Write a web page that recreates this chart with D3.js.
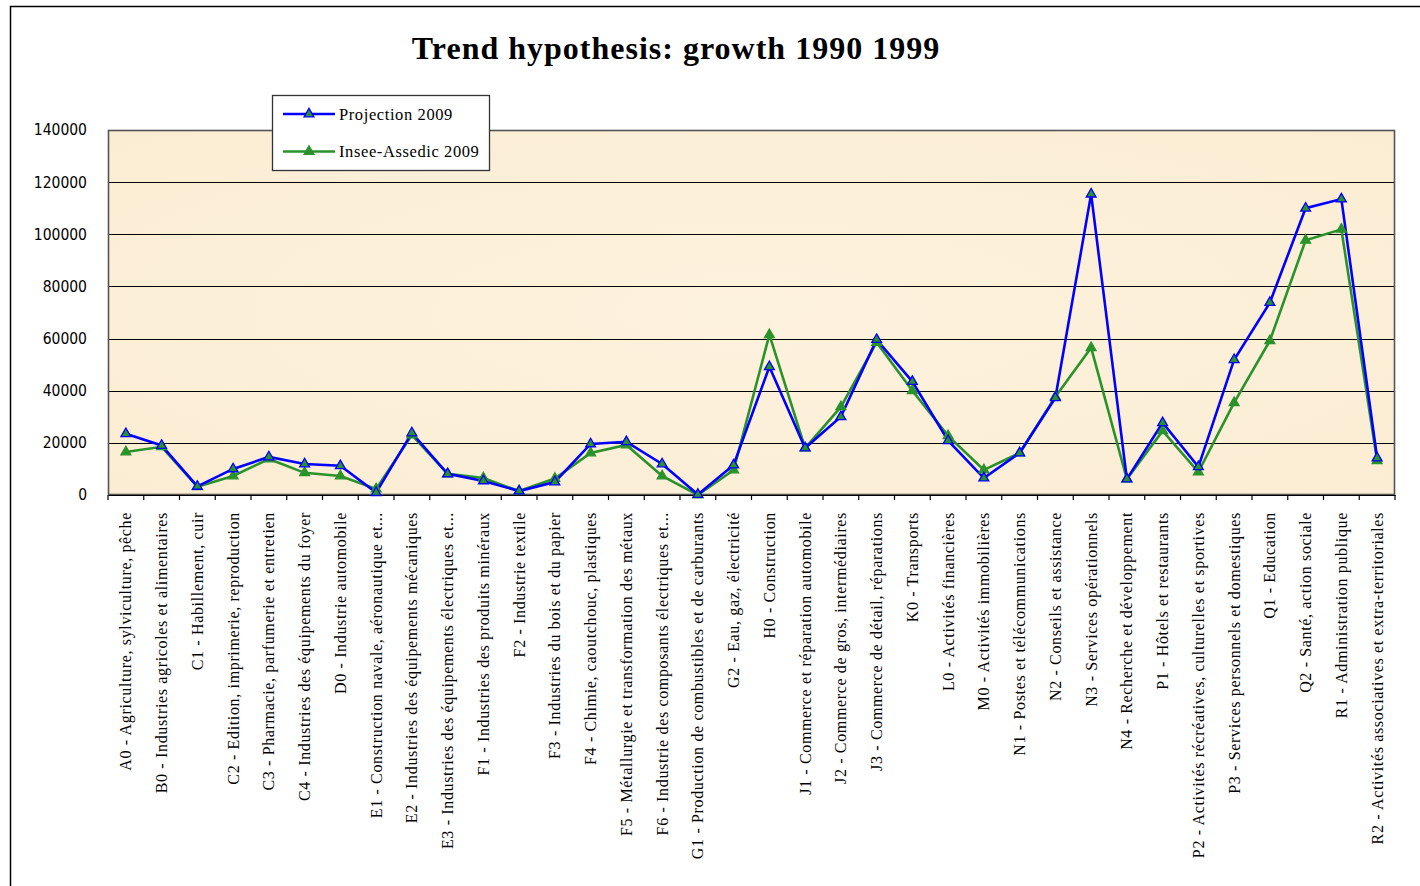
<!DOCTYPE html>
<html><head><meta charset="utf-8">
<script src="https://cdn.jsdelivr.net/npm/d3@7"></script>
<style>body{margin:0;background:#fff;}svg{display:block;}</style>
</head><body>
<svg id="c" width="1420" height="886"></svg>
<script>
const categories = [
"A0 - Agriculture, sylviculture, pêche",
"B0 - Industries agricoles et alimentaires",
"C1 - Habillement, cuir",
"C2 - Edition, imprimerie, reproduction",
"C3 - Pharmacie, parfumerie et entretien",
"C4 - Industries des équipements du foyer",
"D0 - Industrie automobile",
"E1 - Construction navale, aéronautique et...",
"E2 - Industries des équipements mécaniques",
"E3 - Industries des équipements électriques et...",
"F1 - Industries des produits minéraux",
"F2 - Industrie textile",
"F3 - Industries du bois et du papier",
"F4 - Chimie, caoutchouc, plastiques",
"F5 - Métallurgie et transformation des métaux",
"F6 - Industrie des composants électriques et...",
"G1 - Production de combustibles et de carburants",
"G2 - Eau, gaz, électricité",
"H0 - Construction",
"J1 - Commerce et réparation automobile",
"J2 - Commerce de gros, intermédiaires",
"J3 - Commerce de détail, réparations",
"K0 - Transports",
"L0 - Activités financières",
"M0 - Activités immobilières",
"N1 - Postes et télécommunications",
"N2 - Conseils et assistance",
"N3 - Services opérationnels",
"N4 - Recherche et développement",
"P1 - Hôtels et restaurants",
"P2 - Activités récréatives, culturelles et sportives",
"P3 - Services personnels et domestiques",
"Q1 - Education",
"Q2 - Santé, action sociale",
"R1 - Administration publique",
"R2 - Activités associatives et extra-territoriales"
];
const projection2009 = [23500,19000,3300,10000,14600,11900,11200,900,23800,8100,5400,1500,5000,19600,20400,11900,200,11500,49200,18000,30000,59600,43500,20800,6500,16100,37300,115400,6100,27700,10800,51900,73800,110000,113500,14200];
const insee2009 = [16500,18500,3200,7300,13800,8500,7300,2300,23000,8100,6500,1500,6300,16100,19200,7300,0,9600,61500,18000,33800,58500,40000,22700,9600,16100,37700,56500,6100,24600,8800,35400,59200,97700,101900,13100];
const seriesNames = ["Projection 2009","Insee-Assedic 2009"];
const yTicks = [0,20000,40000,60000,80000,100000,120000,140000];
const title = "Trend hypothesis: growth 1990 1999";

const svg = d3.select("#c");
const L=108, R=1395, T=130, B=495;

// outer frame
svg.append("path").attr("d","M10.5,886 V6.5 H1420").attr("fill","none").attr("stroke","#000").attr("stroke-width",1.5);

// title
svg.append("text").attr("x",676).attr("y",59).attr("text-anchor","middle")
  .attr("font-family","Liberation Serif, Times New Roman, serif").attr("font-weight","bold")
  .attr("font-size",32).attr("letter-spacing",1).text(title);

const x = d3.scaleBand().domain(categories).range([L,R]).padding(0);
const y = d3.scaleLinear().domain([0,140000]).range([B,T]);

// plot background
const defs = svg.append("defs");
const grad = defs.append("radialGradient").attr("id","bg").attr("cx","50%").attr("cy","50%").attr("r","70%");
grad.append("stop").attr("offset","0%").attr("stop-color","#fdf2de");
grad.append("stop").attr("offset","100%").attr("stop-color","#fbedd3");
svg.append("rect").attr("x",L).attr("y",T).attr("width",R-L).attr("height",B-T).attr("fill","url(#bg)");

// gridlines
svg.append("g").selectAll("line").data(yTicks.filter(d=>d>0&&d<140000)).join("line")
  .attr("x1",L).attr("x2",R).attr("y1",d=>Math.round(y(d))+0.5).attr("y2",d=>Math.round(y(d))+0.5)
  .attr("stroke","#000").attr("stroke-width",1.2);

// plot border
svg.append("rect").attr("x",L+0.5).attr("y",T+0.5).attr("width",R-L-1).attr("height",B-T-1)
  .attr("fill","none").attr("stroke","#555").attr("stroke-width",1.6);

// y axis
const yAxis = d3.axisLeft(y).tickValues(yTicks).tickSize(0).tickPadding(21).tickFormat(d3.format("d"));
const gy = svg.append("g").attr("transform",`translate(${L},0)`).call(yAxis);
gy.select(".domain").remove();
gy.selectAll("text").attr("font-family","DejaVu Sans Condensed, DejaVu Sans, sans-serif").attr("font-size",15.5).attr("fill","#000");

// x axis
const xAxis = d3.axisBottom(x).tickSize(0).tickFormat(d=>d);
const gx = svg.append("g").attr("transform",`translate(0,${B})`).call(xAxis);
gx.select(".domain").attr("stroke","#000").attr("stroke-width",1.2);
gx.selectAll("text")
  .attr("font-family","Liberation Serif, Times New Roman, serif").attr("font-size",16).attr("fill","#000")
  .attr("letter-spacing",0.65)
  .attr("text-anchor","end").attr("dy","0.35em")
  .attr("transform","translate(0,17) rotate(-90)").attr("x",0).attr("y",0);
// boundary ticks
svg.append("g").selectAll("line").data(d3.range(categories.length+1)).join("line")
  .attr("x1",i=>L+i*x.step()).attr("x2",i=>L+i*x.step())
  .attr("y1",B).attr("y2",B+5).attr("stroke","#000").attr("stroke-width",1.2);

// series
const series = [
  {name:seriesNames[0], values:projection2009, color:"#0000ff"},
  {name:seriesNames[1], values:insee2009, color:"#2a922a"}
];
const line = d3.line().x((d,i)=>x(categories[i])+x.bandwidth()/2).y(d=>y(d));
const tri = d3.symbol().type(d3.symbolTriangle).size(42);
[series[1], series[0]].forEach(s=>{
  svg.append("path").datum(s.values).attr("d",line).attr("fill","none").attr("stroke",s.color).attr("stroke-width",2.6).attr("stroke-linejoin","miter");
});
[series[1], series[0]].forEach(s=>{
  svg.append("g").selectAll("path").data(s.values).join("path")
    .attr("d",tri)
    .attr("transform",(d,i)=>`translate(${x(categories[i])+x.bandwidth()/2},${y(d)})`)
    .attr("fill","#2a922a").attr("stroke",s.color).attr("stroke-width",1.3);
});

// legend
const lg = svg.append("g");
lg.append("rect").attr("x",272.5).attr("y",95.5).attr("width",217).attr("height",75).attr("fill","#fff").attr("stroke","#333").attr("stroke-width",1.3);
series.forEach((s,i)=>{
  const yy = 114 + i*37.5;
  lg.append("line").attr("x1",283).attr("x2",335).attr("y1",yy).attr("y2",yy).attr("stroke",s.color).attr("stroke-width",2.6);
  lg.append("path").attr("d",tri).attr("transform",`translate(309,${yy})`).attr("fill","#2a922a").attr("stroke",s.color).attr("stroke-width",1.3);
  lg.append("text").attr("x",339).attr("y",yy).attr("dy","0.35em")
    .attr("font-family","Liberation Serif, Times New Roman, serif").attr("font-size",16.5)
    .attr("letter-spacing",0.6).text(s.name);
});
</script>
</body></html>
